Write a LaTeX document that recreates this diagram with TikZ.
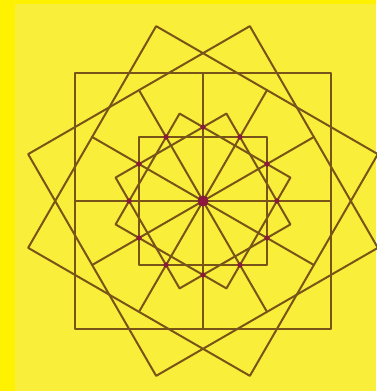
\documentclass[tikz,border=0pt]{standalone}
\definecolor{bgyellow}{RGB}{249,238,58}
\definecolor{linebrown}{RGB}{120,84,24}
\definecolor{dotred}{RGB}{140,24,60}
\begin{document}
\begin{tikzpicture}[x=0.3mm, y=0.3mm, line join=round, line cap=round]
		\path	(0,0) coordinate (O)
				(-203,-190) coordinate (SW)
				(173,201) coordinate (NE)
				(-188,-190) coordinate (PSW)
				(173,197) coordinate (PNE);
		\fill[yellow] (SW) rectangle (NE);
		\fill[bgyellow] (PSW) rectangle (PNE);
		\useasboundingbox (SW) rectangle (NE);
		\tikzset{sq/.style={draw=linebrown, line width=0.6mm}}
		% three big squares, three small ones, and their mid lines
		\foreach \a in {0,30,60} {
			\draw[sq] (\a+45:181.02)--(\a+135:181.02)--(\a+225:181.02)--(\a+315:181.02)--cycle;
			\draw[sq] (\a+45:90.51)--(\a+135:90.51)--(\a+225:90.51)--(\a+315:90.51)--cycle;
			\draw[sq] (\a:128)--(\a+180:128);
			\draw[sq] (\a+90:128)--(\a+270:128);
		}
		%\draw[red,thin] (O) circle (73.9);
		\foreach \a in {0,30,...,330} \fill[dotred] (\a:73.9) circle (2.6);
		\fill[dotred] (O) circle (5.5);
\end{tikzpicture}
\end{document}
